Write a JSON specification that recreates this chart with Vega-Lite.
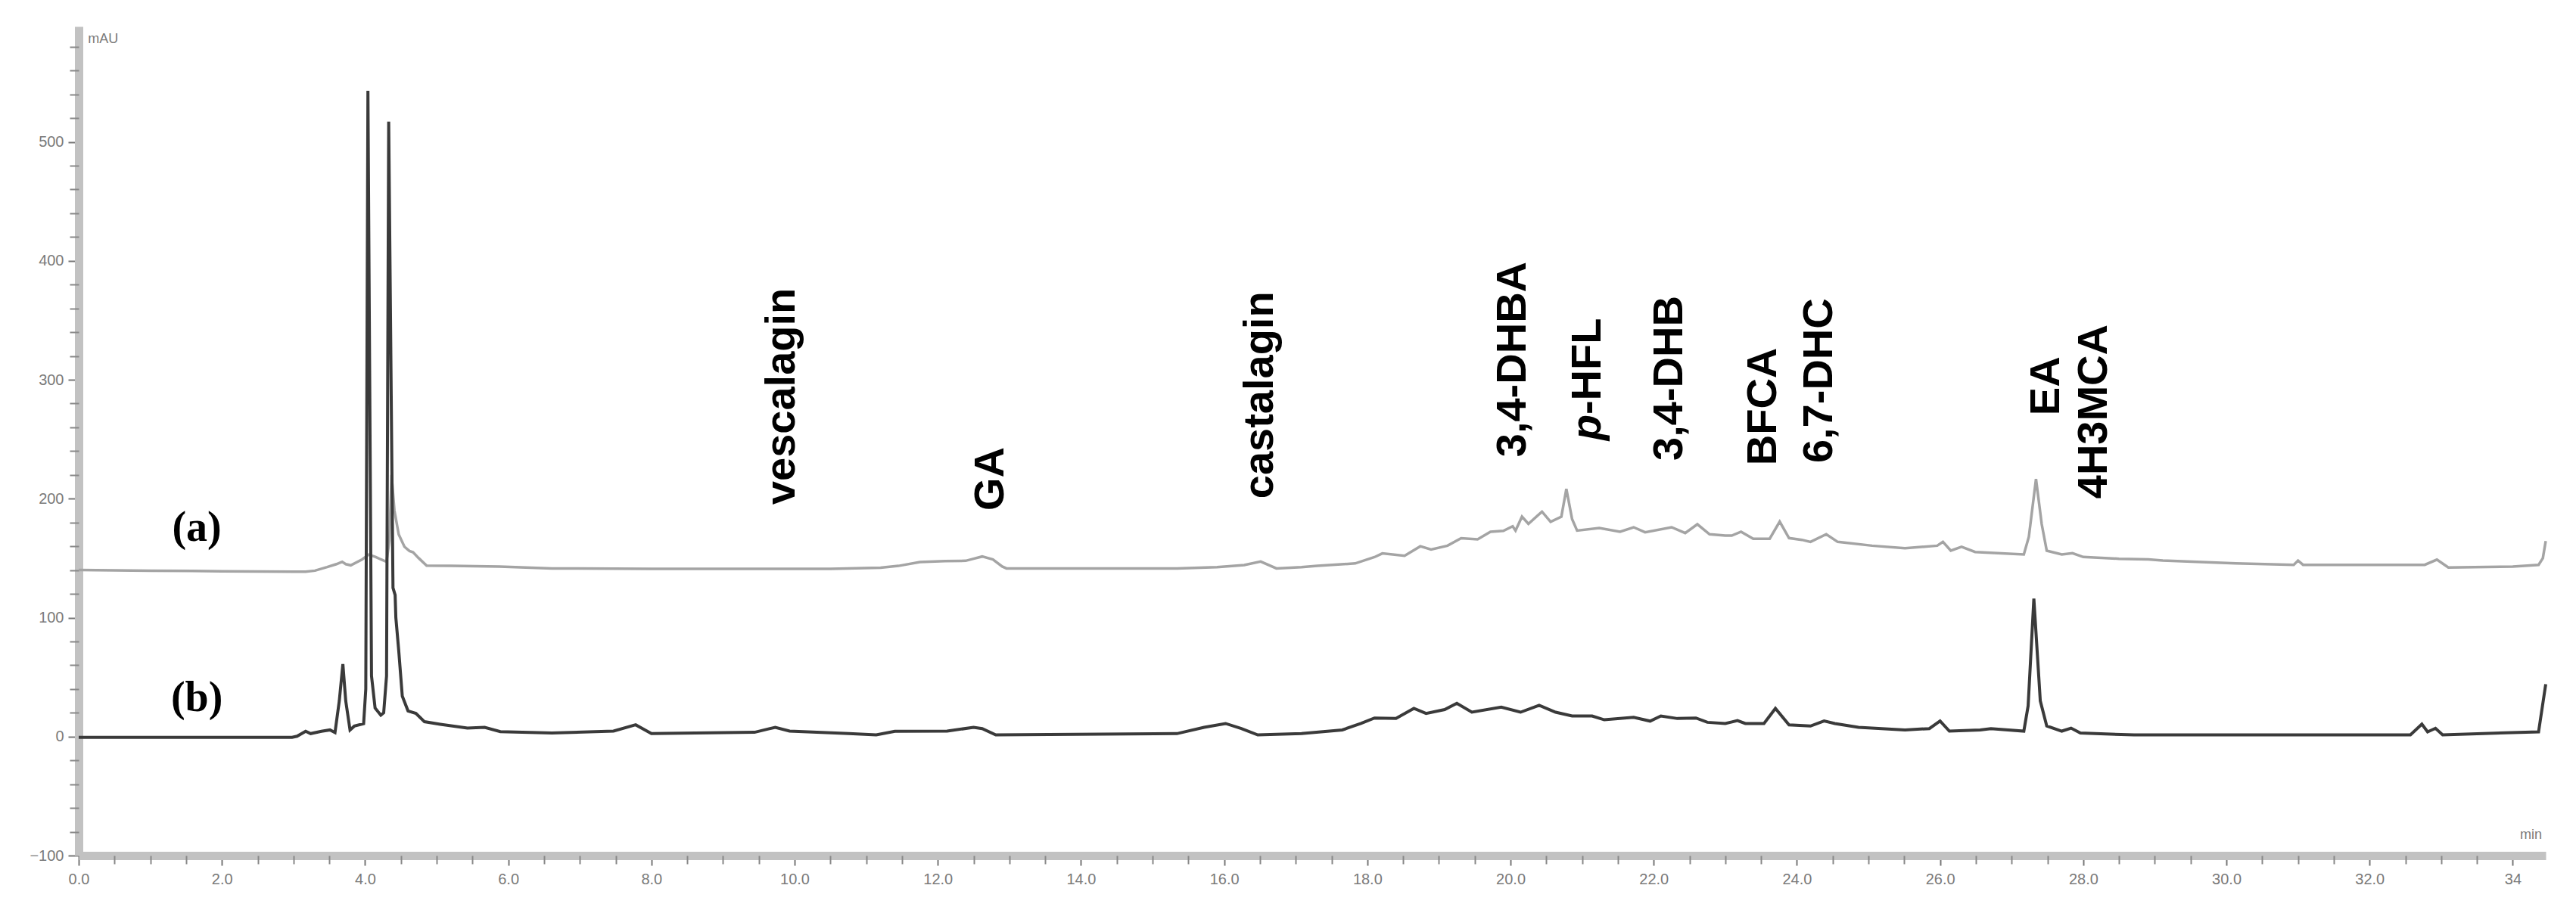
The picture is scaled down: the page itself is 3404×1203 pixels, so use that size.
{
  "$schema": "https://vega.github.io/schema/vega-lite/v6.json",
  "width": 3260,
  "height": 1096,
  "autosize": {"type": "none"},
  "padding": {"left": 104, "top": 35, "right": 40, "bottom": 72},
  "background": "white",
  "config": {"view": {"stroke": null}},
  "datasets": {
    "a": [
      {"t":0,"v":140},{"t":1.0,"v":139.5},{"t":2.0,"v":139},{"t":3.0,"v":138.6},{"t":3.17,"v":138.6},{"t":3.3,"v":139.5},{"t":3.47,"v":142.5},{"t":3.6,"v":145},{"t":3.68,"v":147},{"t":3.73,"v":145},{"t":3.8,"v":144},{"t":3.96,"v":149},{"t":4.05,"v":153},{"t":4.15,"v":151},{"t":4.22,"v":149},{"t":4.3,"v":147},{"t":4.34,"v":165},{"t":4.37,"v":220},{"t":4.41,"v":190},{"t":4.47,"v":170},{"t":4.55,"v":159.6},{"t":4.62,"v":156},{"t":4.67,"v":155},{"t":4.75,"v":150},{"t":4.86,"v":143.7},{"t":5.2,"v":143.5},{"t":5.88,"v":143},{"t":6.61,"v":141.4},{"t":8.0,"v":141},{"t":9.5,"v":141},{"t":10.5,"v":141},{"t":11.2,"v":142},{"t":11.45,"v":143.5},{"t":11.75,"v":146.8},{"t":12.1,"v":147.5},{"t":12.39,"v":147.8},{"t":12.5,"v":149.5},{"t":12.62,"v":151.4},{"t":12.77,"v":148.9},{"t":12.9,"v":143},{"t":12.96,"v":141.4},{"t":14.0,"v":141.4},{"t":15.34,"v":141.4},{"t":15.9,"v":142.5},{"t":16.28,"v":144.2},{"t":16.51,"v":147.2},{"t":16.73,"v":141.4},{"t":17.08,"v":142.5},{"t":17.3,"v":143.5},{"t":17.83,"v":145.6},{"t":18.1,"v":150.9},{"t":18.21,"v":154},{"t":18.52,"v":152},{"t":18.74,"v":160},{"t":18.89,"v":157.3},{"t":19.12,"v":160.5},{"t":19.31,"v":166.8},{"t":19.54,"v":165.8},{"t":19.72,"v":172.2},{"t":19.9,"v":173},{"t":20.03,"v":176.8},{"t":20.07,"v":173.2},{"t":20.16,"v":184.9},{"t":20.25,"v":178.9},{"t":20.44,"v":189.1},{"t":20.56,"v":180.6},{"t":20.71,"v":184.9},{"t":20.78,"v":208.2},{"t":20.86,"v":182.8},{"t":20.93,"v":173.2},{"t":21.24,"v":175.4},{"t":21.53,"v":172.2},{"t":21.72,"v":176},{"t":21.88,"v":171.8},{"t":22.25,"v":176},{"t":22.44,"v":171.1},{"t":22.61,"v":178.5},{"t":22.78,"v":170.1},{"t":23.0,"v":169},{"t":23.09,"v":169},{"t":23.22,"v":172.2},{"t":23.39,"v":166.3},{"t":23.62,"v":166.3},{"t":23.76,"v":180.7},{"t":23.89,"v":166.9},{"t":24.07,"v":165.4},{"t":24.19,"v":163.7},{"t":24.41,"v":170.1},{"t":24.57,"v":163.7},{"t":25.05,"v":160.5},{"t":25.51,"v":158.4},{"t":25.96,"v":160.5},{"t":26.04,"v":163.7},{"t":26.15,"v":156.3},{"t":26.3,"v":159.5},{"t":26.49,"v":155.2},{"t":27.17,"v":153.1},{"t":27.24,"v":167.9},{"t":27.34,"v":216.6},{"t":27.42,"v":178.5},{"t":27.49,"v":156.3},{"t":27.7,"v":153.1},{"t":27.85,"v":154.2},{"t":28.0,"v":151},{"t":28.5,"v":149.5},{"t":28.91,"v":149},{"t":29.11,"v":148},{"t":30.13,"v":145.7},{"t":30.94,"v":144.4},{"t":31.0,"v":148},{"t":31.07,"v":144.4},{"t":32.77,"v":144.4},{"t":32.94,"v":148.8},{"t":33.1,"v":142.1},{"t":34.0,"v":143},{"t":34.36,"v":144.4},{"t":34.42,"v":150},{"t":34.46,"v":164.4}
    ],
    "b": [
      {"t":0,"v":-0.6},{"t":1.5,"v":-0.6},{"t":2.98,"v":-0.6},{"t":3.05,"v":0.3},{"t":3.17,"v":4.5},{"t":3.24,"v":2.5},{"t":3.39,"v":4.5},{"t":3.51,"v":5.6},{"t":3.58,"v":3.4},{"t":3.64,"v":30},{"t":3.69,"v":61},{"t":3.73,"v":30},{"t":3.79,"v":5.6},{"t":3.85,"v":8.8},{"t":3.98,"v":10.9},{"t":4.01,"v":40},{"t":4.04,"v":543},{"t":4.09,"v":51},{"t":4.14,"v":24},{"t":4.22,"v":18},{"t":4.26,"v":20},{"t":4.3,"v":51},{"t":4.33,"v":517},{"t":4.39,"v":125},{"t":4.42,"v":119},{"t":4.43,"v":100},{"t":4.47,"v":72.5},{"t":4.52,"v":34},{"t":4.6,"v":21.6},{"t":4.71,"v":19.5},{"t":4.83,"v":12.5},{"t":5.05,"v":10.4},{"t":5.43,"v":7.2},{"t":5.67,"v":7.8},{"t":5.89,"v":4.2},{"t":6.61,"v":3},{"t":7.47,"v":4.6},{"t":7.78,"v":9.9},{"t":8.0,"v":2.5},{"t":9.44,"v":3.6},{"t":9.73,"v":7.8},{"t":9.93,"v":4.6},{"t":10.76,"v":2.5},{"t":11.14,"v":1.4},{"t":11.4,"v":4.4},{"t":12.13,"v":4.6},{"t":12.5,"v":7.8},{"t":12.62,"v":6.7},{"t":12.81,"v":1.4},{"t":15.34,"v":2.5},{"t":15.72,"v":7.8},{"t":16.02,"v":11},{"t":16.24,"v":6.7},{"t":16.47,"v":1.4},{"t":17.08,"v":2.5},{"t":17.65,"v":5.6},{"t":17.91,"v":11},{"t":18.1,"v":15.6},{"t":18.4,"v":15.2},{"t":18.65,"v":23.7},{"t":18.82,"v":19.5},{"t":19.08,"v":22.7},{"t":19.25,"v":28},{"t":19.46,"v":20.5},{"t":19.87,"v":24.8},{"t":20.14,"v":20.5},{"t":20.4,"v":26.3},{"t":20.63,"v":20.5},{"t":20.86,"v":17.3},{"t":21.14,"v":17.3},{"t":21.31,"v":14.1},{"t":21.72,"v":16.2},{"t":21.95,"v":13},{"t":22.1,"v":17.3},{"t":22.33,"v":15.2},{"t":22.59,"v":15.6},{"t":22.75,"v":12},{"t":23.0,"v":11},{"t":23.17,"v":13.5},{"t":23.28,"v":11},{"t":23.54,"v":11},{"t":23.7,"v":23.7},{"t":23.89,"v":9.9},{"t":24.19,"v":8.9},{"t":24.38,"v":13.1},{"t":24.53,"v":11},{"t":24.86,"v":7.8},{"t":25.51,"v":5.6},{"t":25.85,"v":6.7},{"t":26.0,"v":13.1},{"t":26.13,"v":4.6},{"t":26.56,"v":5.6},{"t":26.71,"v":6.7},{"t":27.17,"v":4.6},{"t":27.23,"v":25.8},{"t":27.31,"v":116},{"t":27.4,"v":30},{"t":27.49,"v":8.9},{"t":27.7,"v":4.6},{"t":27.83,"v":7.1},{"t":27.96,"v":3},{"t":28.71,"v":1.4},{"t":30.53,"v":1.5},{"t":32.57,"v":1.5},{"t":32.73,"v":10.5},{"t":32.81,"v":4},{"t":32.92,"v":7},{"t":33.02,"v":1.5},{"t":34.36,"v":4},{"t":34.46,"v":44}
    ],
    "labels": [
      {"t":9.82,"v":195,"label":"vescalagin"},
      {"t":12.74,"v":190,"label":"GA"},
      {"t":16.5,"v":200,"label":"castalagin"},
      {"t":20.03,"v":235,"label":"3,4-DHBA"},
      {"t":21.08,"v":270.7,"label":"-HFL"},
      {"t":22.22,"v":232,"label":"3,4-DHB"},
      {"t":23.53,"v":228,"label":"BFCA"},
      {"t":24.31,"v":230,"label":"6,7-DHC"},
      {"t":27.48,"v":270,"label":"EA"},
      {"t":28.15,"v":200,"label":"4H3MCA"}
    ],
    "italic": [
      {"t":21.08,"v":249,"label":"p"}
    ],
    "traces": [
      {"t":1.65,"v":175.6,"label":"(a)"},
      {"t":1.65,"v":32,"label":"(b)"}
    ],
    "units": [
      {"t":0.13,"v":586,"label":"mAU","a":"left"},
      {"t":34.1,"v":-83,"label":"min","a":"center"}
    ]
  },
  "resolve": {"axis": {"x": "independent", "y": "independent"}},
  "layer": [
    {
      "data": {"name": "a"},
      "mark": {"type": "line", "color": "#a4a4a4", "strokeWidth": 3.5},
      "encoding": {
        "x": {"field": "t", "type": "quantitative",
          "scale": {"domain": [0, 34.46], "nice": false, "zero": false},
          "axis": {"orient": "bottom", "values": [0,2,4,6,8,10,12,14,16,18,20,22,24,26,28,30,32,34],
            "labelExpr": "datum.value == 34 ? '34' : format(datum.value, '.1f')",
            "title": null, "grid": false, "domainColor": "#c2c2c2", "domainWidth": 11,
            "tickColor": "#777777", "tickSize": 13, "tickWidth": 2,
            "labelFontSize": 20, "labelColor": "#7a7a7a", "labelFont": "Liberation Sans", "labelPadding": 8, "labelFlush": false}},
        "y": {"field": "v", "type": "quantitative",
          "scale": {"domain": [-100, 597], "nice": false, "zero": false},
          "axis": {"orient": "left", "values": [-100,0,100,200,300,400,500],
            "title": null, "grid": false, "domainColor": "#c2c2c2", "domainWidth": 11,
            "tickColor": "#777777", "tickSize": 14, "tickWidth": 2,
            "labelFontSize": 20, "labelColor": "#7a7a7a", "labelFont": "Liberation Sans", "labelPadding": 6}}
      }
    },
    {
      "data": {"name": "b"},
      "mark": {"type": "line", "color": "#3a3a3a", "strokeWidth": 4},
      "encoding": {
        "x": {"field": "t", "type": "quantitative",
          "axis": {"orient": "bottom", "values": [0.5,1,1.5,2.5,3,3.5,4.5,5,5.5,6.5,7,7.5,8.5,9,9.5,10.5,11,11.5,12.5,13,13.5,14.5,15,15.5,16.5,17,17.5,18.5,19,19.5,20.5,21,21.5,22.5,23,23.5,24.5,25,25.5,26.5,27,27.5,28.5,29,29.5,30.5,31,31.5,32.5,33,33.5],
            "labels": false, "domain": false, "title": null, "grid": false,
            "tickColor": "#888888", "tickSize": 11, "tickWidth": 2}},
        "y": {"field": "v", "type": "quantitative",
          "axis": {"orient": "left", "values": [-80,-60,-40,-20,20,40,60,80,120,140,160,180,220,240,260,280,320,340,360,380,420,440,460,480,520,540,560,580],
            "labels": false, "domain": false, "title": null, "grid": false,
            "tickColor": "#888888", "tickSize": 12, "tickWidth": 2}}
      }
    },
    {
      "data": {"name": "labels"},
      "mark": {"type": "text", "angle": 270, "align": "left", "baseline": "middle", "font": "Liberation Sans", "fontWeight": "bold", "fontSize": 56, "color": "#000000"},
      "encoding": {
        "x": {"field": "t", "type": "quantitative", "axis": null},
        "y": {"field": "v", "type": "quantitative", "axis": null},
        "text": {"field": "label"}
      }
    },
    {
      "data": {"name": "italic"},
      "mark": {"type": "text", "angle": 270, "align": "left", "baseline": "middle", "font": "Liberation Sans", "fontWeight": "bold", "fontStyle": "italic", "fontSize": 56, "color": "#000000"},
      "encoding": {
        "x": {"field": "t", "type": "quantitative", "axis": null},
        "y": {"field": "v", "type": "quantitative", "axis": null},
        "text": {"field": "label"}
      }
    },
    {
      "data": {"name": "traces"},
      "mark": {"type": "text", "align": "center", "baseline": "middle", "font": "Liberation Serif", "fontWeight": "bold", "fontSize": 56, "color": "#000000"},
      "encoding": {
        "x": {"field": "t", "type": "quantitative", "axis": null},
        "y": {"field": "v", "type": "quantitative", "axis": null},
        "text": {"field": "label"}
      }
    },
    {
      "data": {"name": "units"},
      "mark": {"type": "text", "align": "left", "baseline": "middle", "font": "Liberation Sans", "fontSize": 18, "color": "#7a7a7a"},
      "encoding": {
        "x": {"field": "t", "type": "quantitative", "axis": null},
        "y": {"field": "v", "type": "quantitative", "axis": null},
        "text": {"field": "label"}
      }
    }
  ]
}
